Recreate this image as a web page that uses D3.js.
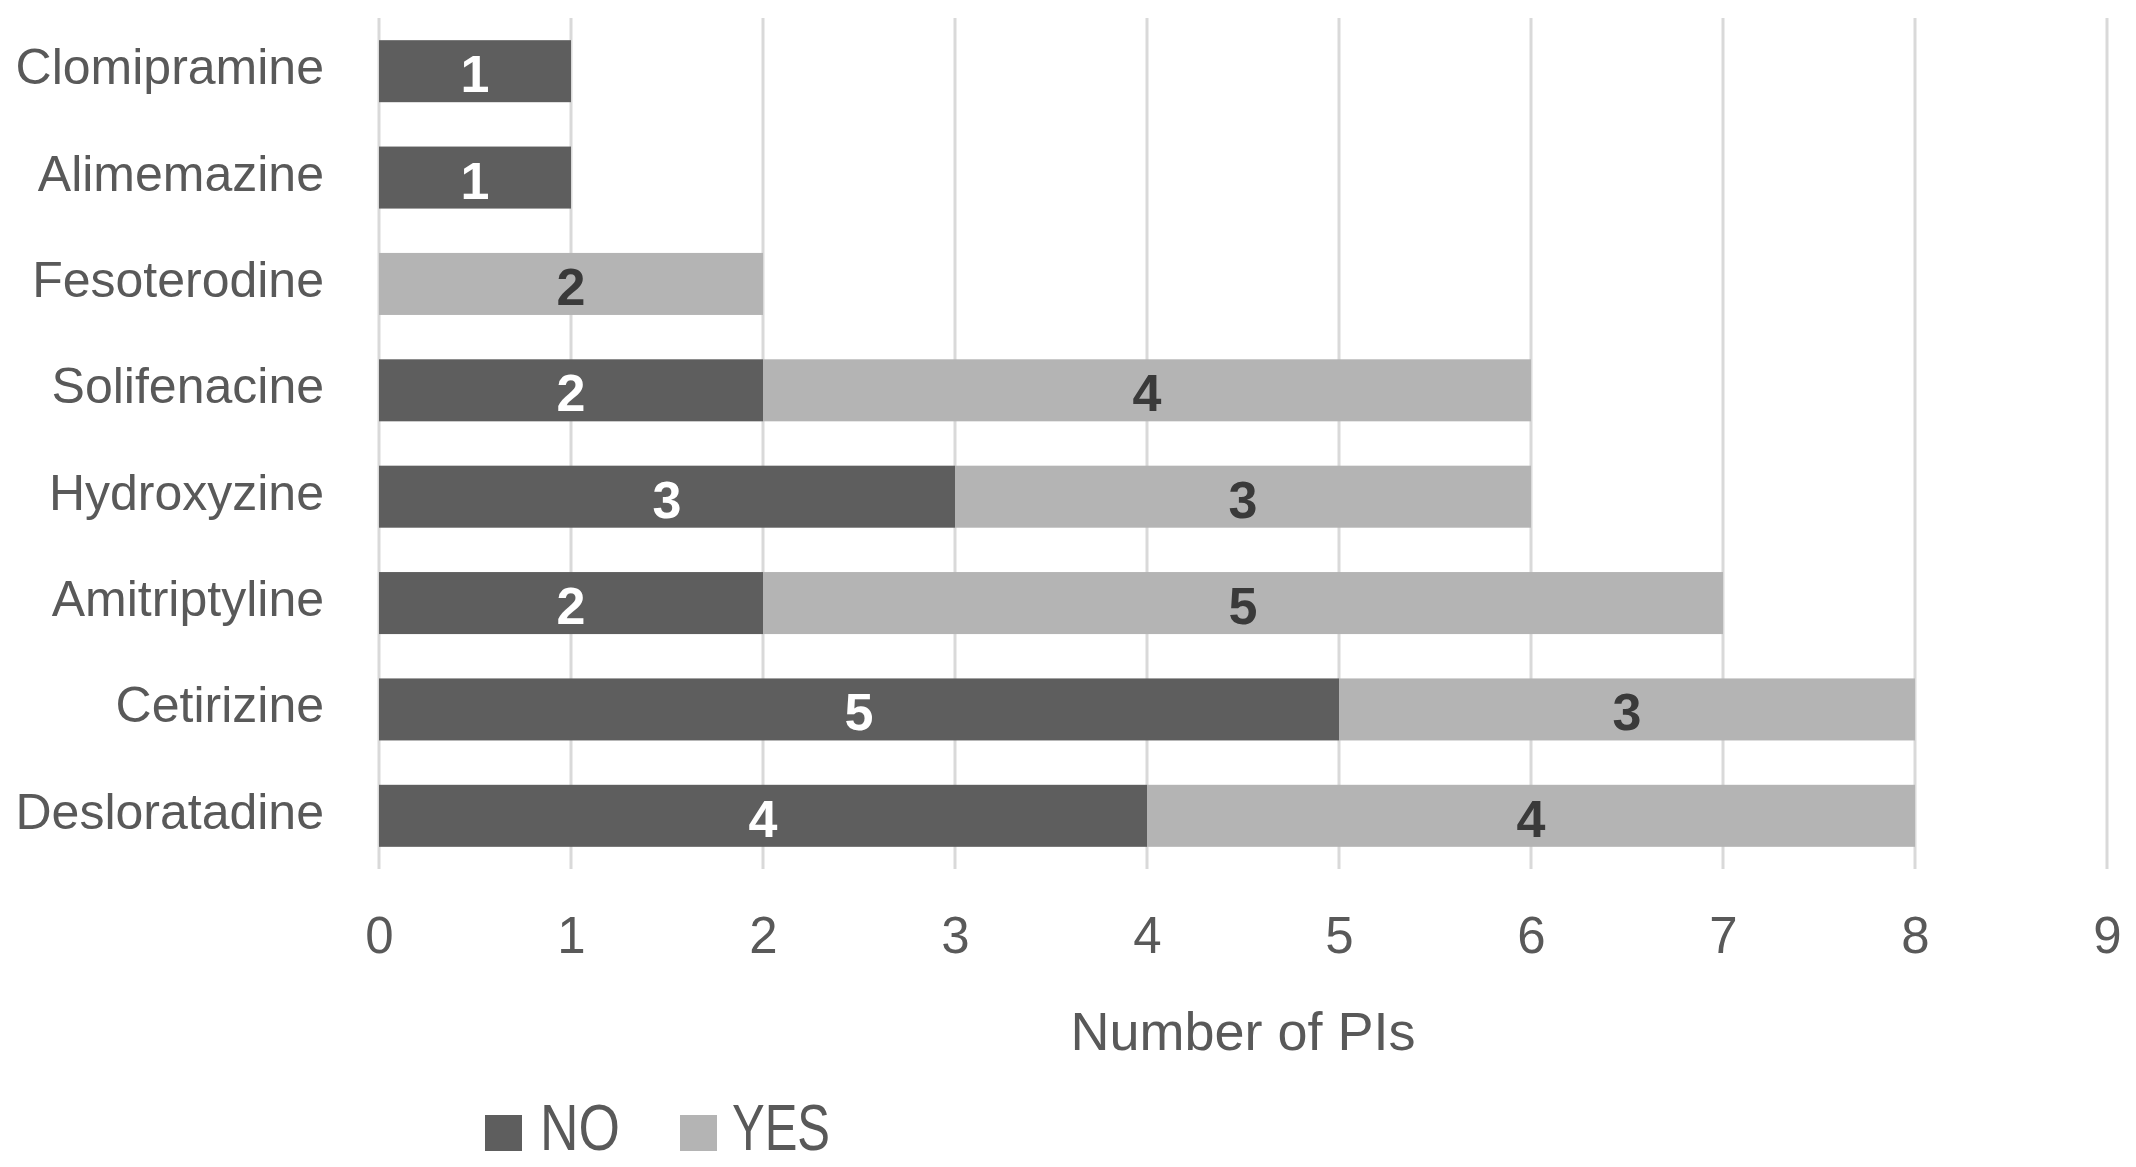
<!DOCTYPE html>
<html>
<head>
<meta charset="utf-8">
<script src="https://cdn.jsdelivr.net/npm/d3@7"></script>
<style>
  html, body { margin: 0; padding: 0; background: #fff; }
  svg { display: block; }
  text { font-family: "Liberation Sans", Arial, sans-serif; }
</style>
</head>
<body>
<svg id="chart" width="2136" height="1167"></svg>
<script>
const categories = ["Clomipramine","Alimemazine","Fesoterodine","Solifenacine","Hydroxyzine","Amitriptyline","Cetirizine","Desloratadine"];
const seriesNames = ["NO","YES"];
const noValues  = [1,1,0,2,3,2,5,4];
const yesValues = [0,0,2,4,3,5,3,4];
const xTicks = [0,1,2,3,4,5,6,7,8,9];
const axisTitle = "Number of PIs";

const colors = {NO: "#5e5e5e", YES: "#b4b4b4"};
const labelColors = {NO: "#ffffff", YES: "#3a3a3a"};

const svg = d3.select("#chart");
const x = d3.scaleLinear().domain([0, 9]).range([379, 2107]);
const y = d3.scaleBand().domain(categories).range([18, 869]).paddingInner(0.417).paddingOuter(0.2085);

// gridlines
svg.append("g").selectAll("line").data(xTicks).join("line")
  .attr("x1", d => x(d)).attr("x2", d => x(d))
  .attr("y1", 18).attr("y2", 869)
  .attr("stroke", "#d9d9d9").attr("stroke-width", 3);

// stacked data
const rows = categories.map((c, i) => ({cat: c, NO: noValues[i], YES: yesValues[i]}));
const stack = d3.stack().keys(seriesNames)(rows);

const g = svg.append("g");
stack.forEach(layer => {
  const key = layer.key;
  g.append("g").selectAll("rect").data(layer.filter(d => d[1] - d[0] > 0)).join("rect")
    .attr("x", d => x(d[0]))
    .attr("width", d => x(d[1]) - x(d[0]))
    .attr("y", d => y(d.data.cat))
    .attr("height", y.bandwidth())
    .attr("fill", colors[key]);
  g.append("g").selectAll("text").data(layer.filter(d => d[1] - d[0] > 0)).join("text")
    .attr("x", d => x((d[0] + d[1]) / 2))
    .attr("y", d => y(d.data.cat) + y.bandwidth() / 2 + 21)
    .attr("text-anchor", "middle")
    .attr("font-size", 52)
    .attr("font-weight", "bold")
    .attr("fill", labelColors[key])
    .text(d => d[1] - d[0]);
});

// y axis labels
const yAxis = d3.axisLeft(y).tickSize(0).tickPadding(0);
const yg = svg.append("g").attr("transform", "translate(324,0)").call(yAxis);
yg.select(".domain").remove();
yg.selectAll("text")
  .attr("font-size", 50)
  .attr("font-family", "'Liberation Sans', Arial, sans-serif")
  .attr("fill", "#595959")
  .attr("dy", "0.26em")
  .attr("x", 0);

// x axis labels
const xAxis = d3.axisBottom(x).tickValues(xTicks).tickSize(0).tickPadding(0).tickFormat(d3.format("d"));
const xg = svg.append("g").attr("transform", "translate(0,953)").call(xAxis);
xg.select(".domain").remove();
xg.selectAll("text")
  .attr("font-size", 51)
  .attr("font-family", "'Liberation Sans', Arial, sans-serif")
  .attr("fill", "#595959")
  .attr("dy", 0)
  .attr("y", 0);

// axis title
svg.append("text")
  .attr("x", (x(0) + x(9)) / 2)
  .attr("y", 1050)
  .attr("text-anchor", "middle")
  .attr("font-size", 54)
  .attr("fill", "#595959")
  .text(axisTitle);

// legend
const legendPos = [{sx: 485, tx: 540, tw: 80}, {sx: 680, tx: 732, tw: 98}];
const lg = svg.append("g");
seriesNames.forEach((s, i) => {
  lg.append("rect")
    .attr("x", legendPos[i].sx).attr("y", 1115)
    .attr("width", 37).attr("height", 36)
    .attr("fill", colors[s]);
  lg.append("text")
    .attr("x", legendPos[i].tx).attr("y", 1150)
    .attr("font-size", 64)
    .attr("fill", "#595959")
    .attr("textLength", legendPos[i].tw)
    .attr("lengthAdjust", "spacingAndGlyphs")
    .text(s);
});
</script>
</body>
</html>
